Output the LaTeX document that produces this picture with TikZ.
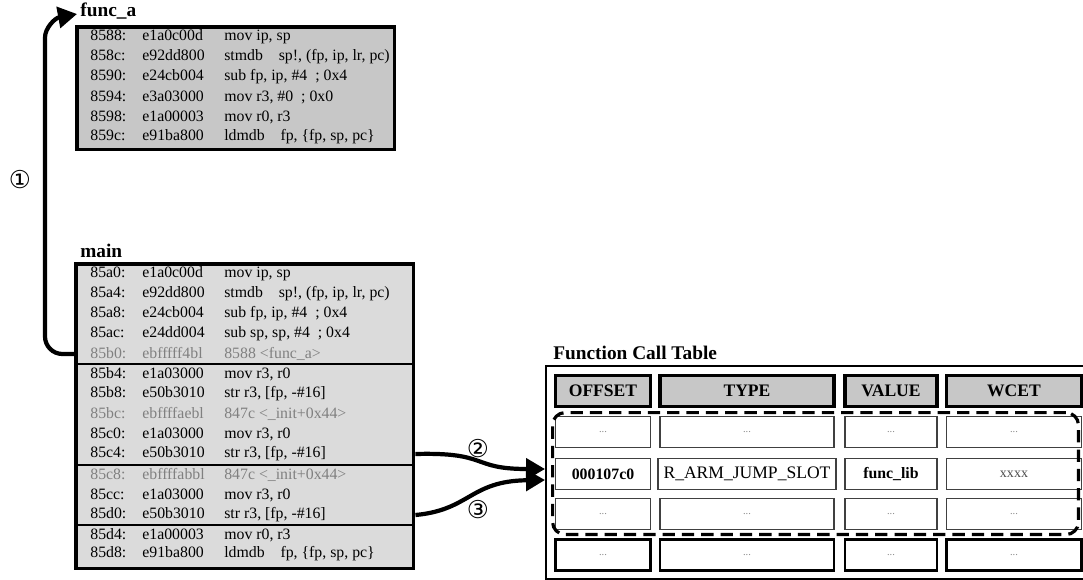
\documentclass[tikz,border=0pt]{standalone}
\usepackage{fontspec}
\setmainfont{Liberation Serif}
\newfontfamily\circfont{DejaVu Sans}
\usepackage{tikz}
\usetikzlibrary{arrows.meta,positioning,calc}

% one line of disassembly: address, opcode, instruction
\newcommand{\asmline}[3]{\makebox[1.04cm][l]{#1}\makebox[1.64cm][l]{#2}#3}

\begin{document}
\begin{tikzpicture}[
    x=0.02cm, y=-0.02cm,
    title/.style={anchor=south west, inner sep=0pt, font=\bfseries\fontsize{11}{12}\selectfont},
    funcbox/.style={draw, line width=2pt, fill=black!22, anchor=north west},
    mainbox/.style={draw, line width=2pt, fill=black!14, anchor=north west},
    asm/.style={anchor=west, inner sep=0pt, font=\fontsize{9}{10}\selectfont},
    dim/.style={asm, text=black!50},
    sep/.style={line width=1pt},
    tablebox/.style={draw, line width=1.4pt, anchor=north west, minimum width=11.2cm, minimum height=4.26cm},
    head/.style={draw, line width=2pt, fill=black!22, minimum height=0.62cm, font=\bfseries\fontsize{10}{12}\selectfont},
    cell/.style={draw=black!75, line width=1pt, fill=white, minimum height=0.62cm, font=\fontsize{6}{7}\selectfont, text=black!45},
    lastcell/.style={cell, draw=black, line width=1.6pt},
    offcol/.style={minimum width=1.9cm},
    typcol/.style={minimum width=3.48cm},
    valcol/.style={minimum width=1.84cm},
    wcetcol/.style={minimum width=2.7cm},
    grp/.style={draw, dashed, dash pattern=on 7pt off 4pt, line width=1.8pt, rounded corners=2.5mm, anchor=north west, minimum width=10.52cm, minimum height=2.44cm},
    arr/.style={-{Triangle[length=3.8mm, width=4.2mm]}, line width=2.4pt},
    steplbl/.style={font=\circfont\fontsize{14}{16}\selectfont}
]
\useasboundingbox (0,0) rectangle (1083,579);

% func_a
\node[title] (ftitle) at (80,20) {func\_a};
\node[funcbox, minimum width=6.36cm, minimum height=2.46cm] (funca) at (75,25) {};
\node[asm] (f1) at (90,37) {\asmline{8588:}{e1a0c00d}{mov ip, sp}};
\node[asm] (f2) at (90,57) {\asmline{858c:}{e92dd800}{stmdb\quad sp!, (fp, ip, lr, pc)}};
\node[asm] (f3) at (90,77) {\asmline{8590:}{e24cb004}{sub fp, ip, \#4\enspace ; 0x4}};
\node[asm] (f4) at (90,97) {\asmline{8594:}{e3a03000}{mov r3, \#0\enspace ; 0x0}};
\node[asm] (f5) at (90,117) {\asmline{8598:}{e1a00003}{mov r0, r3}};
\node[asm] (f6) at (90,137) {\asmline{859c:}{e91ba800}{ldmdb\quad fp, \{fp, sp, pc\}}};

% main
\node[title] (mtitle) at (80,258) {main};
\node[mainbox, minimum width=6.76cm, minimum height=6.1cm] (main) at (74,262) {};
\node[asm] (m1) at (90,274) {\asmline{85a0:}{e1a0c00d}{mov ip, sp}};
\node[asm] (m2) at (90,294) {\asmline{85a4:}{e92dd800}{stmdb\quad sp!, (fp, ip, lr, pc)}};
\node[asm] (m3) at (90,314) {\asmline{85a8:}{e24cb004}{sub fp, ip, \#4\enspace ; 0x4}};
\node[asm] (m4) at (90,334) {\asmline{85ac:}{e24dd004}{sub sp, sp, \#4\enspace ; 0x4}};
\node[dim] (m5) at (90,354) {\asmline{85b0:}{ebfffff4bl}{8588 <func\_a>}};
\node[asm] (m6) at (90,374) {\asmline{85b4:}{e1a03000}{mov r3, r0}};
\node[asm] (m7) at (90,394) {\asmline{85b8:}{e50b3010}{str r3, [fp, -\#16]}};
\node[dim] (m8) at (90,414) {\asmline{85bc:}{ebffffaebl}{847c <\_init+0x44>}};
\node[asm] (m9) at (90,434) {\asmline{85c0:}{e1a03000}{mov r3, r0}};
\node[asm] (m10) at (90,454) {\asmline{85c4:}{e50b3010}{str r3, [fp, -\#16]}};
\node[dim] (m11) at (90,475) {\asmline{85c8:}{ebffffabbl}{847c <\_init+0x44>}};
\node[asm] (m12) at (90,495) {\asmline{85cc:}{e1a03000}{mov r3, r0}};
\node[asm] (m13) at (90,515) {\asmline{85d0:}{e50b3010}{str r3, [fp, -\#16]}};
\node[asm] (m14) at (90,535) {\asmline{85d4:}{e1a00003}{mov r0, r3}};
\node[asm] (m15) at (90,554) {\asmline{85d8:}{e91ba800}{ldmdb\quad fp, \{fp, sp, pc\}}};
\draw[sep] (74,364) -- (412,364);
\draw[sep] (74,465) -- (412,465);
\draw[sep] (74,525) -- (412,525);

% function call table
\node[title] (ttitle) at (553,360) {Function Call Table};
\node[tablebox] (table) at (545,365) {};
\node[head, offcol] (hoff) at (603,391) {OFFSET};
\node[head, typcol] (htyp) at (747,391) {TYPE};
\node[head, valcol] (hval) at (891,391) {VALUE};
\node[head, wcetcol] (hwcet) at (1014,391) {WCET};

\node[cell, offcol] (aoff) at (603,432) {...};
\node[cell, typcol] (atyp) at (747,432) {...};
\node[cell, valcol] (aval) at (891,432) {...};
\node[cell, wcetcol] (awcet) at (1014,432) {...};

\node[cell, offcol, text=black, font=\bfseries\fontsize{9}{10}\selectfont] (boff) at (603,474) {000107c0};
\node[cell, typcol, text=black, font=\fontsize{10}{12}\selectfont] (btyp) at (747,474) {R\_ARM\_JUMP\_SLOT};
\node[cell, valcol, text=black, font=\bfseries\fontsize{9}{10}\selectfont] (bval) at (891,474) {func\_lib};
\node[cell, wcetcol, text=black!70, font=\fontsize{8}{10}\selectfont] (bwcet) at (1014,474) {xxxx};

\node[cell, offcol] (coff) at (603,514) {...};
\node[cell, typcol] (ctyp) at (747,514) {...};
\node[cell, valcol] (cval) at (891,514) {...};
\node[cell, wcetcol] (cwcet) at (1014,514) {...};

\node[lastcell, offcol] (doff) at (603,555) {...};
\node[lastcell, typcol] (dtyp) at (747,555) {...};
\node[lastcell, valcol] (dval) at (891,555) {...};
\node[lastcell, wcetcol] (dwcet) at (1014,555) {...};

\node[grp] (grp) at (551,411) {};

% calls
\coordinate (out1) at (main.west |- m5);
\coordinate (in1) at (77,14);
\coordinate (out2) at (main.east |- m10);
\coordinate (out3) at (main.east |- m13);
\coordinate (in2) at (545,469);
\coordinate (in3) at (545,480);
\draw[arr, rounded corners=3.5mm] (out1) -- (45,354) -- (45,55) .. controls (45,28) and (55,18) .. (in1);
\draw[arr] (out2) .. controls (490,452) and (470,469) .. (in2);
\draw[arr] (out3) .. controls (470,510) and (470,481) .. (in3);
\node[steplbl] (s1) at (20,180) {①};
\node[steplbl] (s2) at (478,449) {②};
\node[steplbl] (s3) at (478,510) {③};
\end{tikzpicture}
\end{document}
